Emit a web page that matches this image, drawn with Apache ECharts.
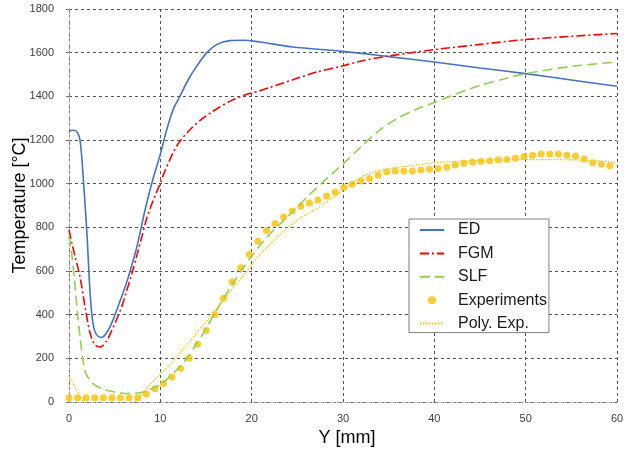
<!DOCTYPE html>
<html>
<head>
<meta charset="utf-8">
<script src="https://cdn.jsdelivr.net/npm/echarts@6/dist/echarts.min.js"></script>
<style>
  html, body { margin: 0; padding: 0; background: #fff; }
  #chart { width: 634px; height: 454px; }
</style>
</head>
<body>
<div id="chart"></div>
<script>
// Temperature profiles along Y: three model variants, measurements and a polynomial fit
const xTicks = [0, 10, 20, 30, 40, 50, 60];
const yTicks = [0, 200, 400, 600, 800, 1000, 1200, 1400, 1600, 1800];

const edY = [0, 0.3, 0.7, 1.0, 1.2, 1.4, 1.6, 1.8, 2.0, 2.25, 2.5, 2.8, 3.2, 3.6, 4.0, 4.5, 5.0, 5.5, 6.0, 6.5, 7.0, 7.5, 8.3, 9.05, 10.03, 10.7, 11.4, 12.14, 13.05, 13.97, 15.06, 16.16, 17.6, 19.07, 20.9, 24.5, 30, 35, 40, 45, 50, 55, 60];
const edT = [1237, 1245, 1243, 1228, 1200, 1120, 1000, 880, 745, 540, 400, 327, 300, 296, 310, 345, 395, 452, 510, 573, 645, 722, 875, 1000, 1140, 1247, 1339, 1400, 1476, 1537, 1599, 1637, 1655, 1657, 1649, 1626, 1606, 1582, 1557, 1530, 1504, 1475, 1446];

const fgmY = [0, 0.3, 0.66, 1.2, 1.75, 2.3, 2.84, 3.4, 4.1, 4.6, 5.2, 5.8, 6.3, 6.9, 7.4, 8.0, 8.5, 9.0, 9.5, 10, 10.5, 11.05, 11.5, 12.14, 13.24, 14.7, 16.16, 17.6, 19.4, 20.9, 24.5, 27, 30, 32, 35, 37.5, 40, 45, 50, 55, 60];
const fgmT = [788, 730, 667, 575, 438, 317, 262, 252, 278, 320, 377, 440, 507, 590, 667, 760, 840, 900, 952, 1003, 1058, 1110, 1150, 1194, 1247, 1301, 1342, 1377, 1408, 1426, 1476, 1510, 1540, 1562, 1585, 1600, 1614, 1638, 1660, 1675, 1688];

const slfY = [0, 0.3, 0.6, 0.9, 1.2, 1.5, 1.8, 2.2, 2.7, 3.4, 4.5, 5.5, 6.5, 7.5, 8.5, 9.0, 10, 11, 12, 13, 14, 15, 16, 17, 18, 19, 20, 21, 22, 23, 24, 25, 26, 27, 28, 29, 30, 32, 34, 36, 38, 40, 42, 45, 48, 50, 55, 60];
const slfT = [760, 680, 560, 420, 300, 200, 135, 105, 82, 65, 50, 42, 39, 41, 50, 60, 80, 115, 155, 205, 270, 335, 410, 480, 545, 610, 668, 722, 770, 812, 852, 893, 935, 976, 1015, 1053, 1090, 1170, 1245, 1300, 1340, 1372, 1405, 1450, 1484, 1504, 1537, 1557];

const expY = [0, 0.94, 1.88, 2.82, 3.76, 4.7, 5.64, 6.58, 7.52, 8.46, 9.4, 10.34, 11.28, 12.22, 13.16, 14.1, 15.04, 15.98, 16.92, 17.86, 18.8, 19.74, 20.68, 21.62, 22.56, 23.5, 24.44, 25.38, 26.32, 27.26, 28.2, 29.14, 30.08, 31.02, 31.96, 32.9, 33.84, 34.78, 35.72, 36.66, 37.6, 38.54, 39.48, 40.42, 41.36, 42.3, 43.24, 44.18, 45.12, 46.06, 47, 47.94, 48.88, 49.82, 50.76, 51.7, 52.64, 53.58, 54.52, 55.46, 56.4, 57.34, 58.28, 59.22];
const expT = [20, 20, 20, 20, 20, 20, 20, 20, 20, 37, 61, 85, 115, 153, 201, 265, 328, 400, 475, 550, 615, 676, 736, 785, 817, 847, 875, 896, 912, 925, 944, 962, 982, 997, 1012, 1024, 1038, 1053, 1058, 1058, 1058, 1063, 1066, 1070, 1075, 1086, 1093, 1099, 1102, 1105, 1109, 1111, 1116, 1125, 1130, 1136, 1136, 1136, 1130, 1127, 1113, 1096, 1089, 1082];

// polynomial fit; the stretch where it dips below 0 lies outside the plot (null = gap)
const polyY = [0, 0.8, 1.6, 4.4, 7.2, 8.0, 9.0, 10, 11, 12, 13, 14, 15, 16, 17, 18, 19, 20, 21, 22, 23, 24, 25, 26, 27, 28, 29, 30, 32, 34, 36, 38, 40, 43, 46, 50, 53, 56, 58, 60];
const polyT = [117, 56, 0, null, 0, 35, 85, 128, 170, 218, 265, 318, 368, 420, 472, 525, 575, 628, 680, 722, 765, 800, 833, 860, 882, 910, 940, 970, 1030, 1060, 1075, 1085, 1095, 1103, 1108, 1110, 1110, 1108, 1104, 1098];

const zip = (xs, ys) => xs.map((x, i) => [x, ys[i]]);

const chart = echarts.init(document.getElementById('chart'), null, { renderer: 'canvas' });

const gridLine = { color: '#555', width: 1, type: [3, 3] };
const tickFont = { fontFamily: 'Liberation Sans', fontSize: 11, color: '#404040' };
const titleFont = { fontFamily: 'Liberation Sans', fontSize: 18, color: '#000' };
// line entries in the legend show only the stroke sample, no marker
const lineOnly = { opacity: 0 };

chart.setOption({
  animation: false,
  backgroundColor: '#fff',
  grid: { left: 69, right: 17, top: 9, bottom: 52, containLabel: false, outerBoundsMode: 'none' },
  xAxis: {
    type: 'value', min: 0, max: 60, interval: 10,
    name: 'Y [mm]', nameLocation: 'middle', nameGap: 27,
    nameTextStyle: Object.assign({ padding: [0, 0, 0, 8] }, titleFont),
    axisLine: { show: true, lineStyle: { color: '#a0a0a0', width: 1, type: [2, 2] } },
    axisTick: { show: false },
    axisLabel: Object.assign({ margin: 11, formatter: v => xTicks.includes(v) ? String(v) : '' }, tickFont),
    splitLine: { show: true, lineStyle: gridLine }
  },
  yAxis: {
    type: 'value', min: 0, max: 1800, interval: 200,
    name: 'Temperature [°C]', nameLocation: 'middle', nameGap: 40, nameMoveOverlap: false,
    nameTextStyle: titleFont,
    axisLine: { show: true, lineStyle: { color: '#a0a0a0', width: 1, type: [2, 2] } },
    axisTick: { show: true, length: 3, lineStyle: { color: '#777' } },
    axisLabel: Object.assign({ margin: 15, formatter: v => yTicks.includes(v) ? String(v) : '' }, tickFont),
    splitLine: { show: true, lineStyle: gridLine }
  },
  legend: {
    orient: 'vertical', left: 409, top: 219,
    padding: [3, 2, 1, 10],
    itemWidth: 24, itemHeight: 8, itemGap: 7.4,
    backgroundColor: '#fff', borderColor: '#808080', borderWidth: 1,
    textStyle: { fontFamily: 'Liberation Sans', fontSize: 16, lineHeight: 16, color: '#1a1a1a', padding: [0, 0, 0, 9] },
    data: [
      { name: 'ED', itemStyle: lineOnly },
      { name: 'FGM', itemStyle: lineOnly },
      { name: 'SLF', itemStyle: lineOnly },
      { name: 'Experiments' },
      { name: 'Poly. Exp.', itemStyle: lineOnly }
    ]
  },
  series: [
    {
      name: 'ED', type: 'line', data: zip(edY, edT), symbol: 'none', smooth: 0.3,
      lineStyle: { color: '#4472C4', width: 1.6 }, itemStyle: { color: '#4472C4' }
    },
    {
      name: 'FGM', type: 'line', data: zip(fgmY, fgmT), symbol: 'none', smooth: 0.3,
      lineStyle: { color: '#FF0000', width: 1.6, type: [9, 3, 2, 3] }, itemStyle: { color: '#FF0000' }
    },
    {
      name: 'SLF', type: 'line', data: zip(slfY, slfT), symbol: 'none', smooth: 0.3,
      lineStyle: { color: '#92D050', width: 1.6, type: [10, 5] }, itemStyle: { color: '#92D050' }
    },
    {
      name: 'Experiments', type: 'scatter', data: zip(expY, expT), symbol: 'circle', symbolSize: 7,
      itemStyle: { color: '#FFC000' }
    },
    {
      name: 'Poly. Exp.', type: 'line', data: zip(polyY, polyT), symbol: 'none', smooth: 0.3,
      connectNulls: false,
      lineStyle: { color: '#FFC000', width: 1.2, type: [1.5, 1.5] }, itemStyle: { color: '#FFC000' }
    }
  ]
});
</script>
</body>
</html>
